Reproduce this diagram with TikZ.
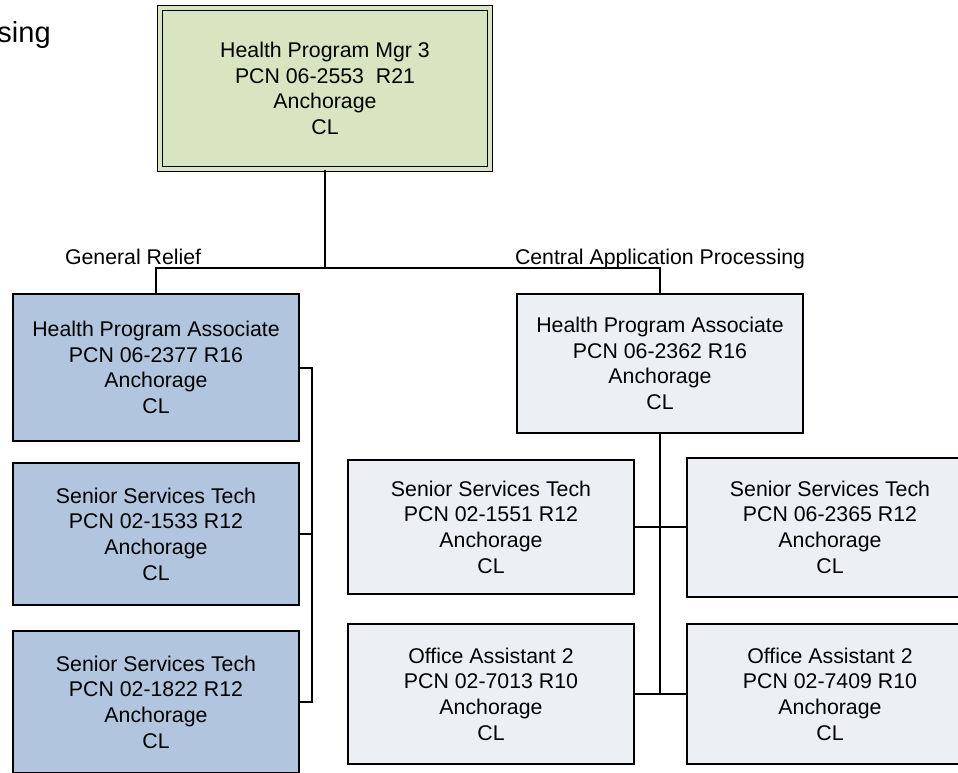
\documentclass[tikz,border=0pt]{standalone}
\usepackage{fontspec}
\setmainfont{Liberation Sans}
\definecolor{mgrgreen}{RGB}{217,228,192}
\definecolor{grblue}{RGB}{177,197,222}
\definecolor{capgrey}{RGB}{236,240,245}

\begin{document}
\begin{tikzpicture}[x=1pt, y=-1pt, line width=2pt,
  txt/.style={font=\fontsize{21.3}{25.7}\selectfont},
  post/.style={txt, draw, align=center, inner sep=2pt, minimum width=286pt, minimum height=142pt},
  mgr/.style={txt, draw, align=center, fill=mgrgreen, double=mgrgreen, double distance=4pt, line width=1.4pt, minimum width=330pt, minimum height=161pt},
  grbox/.style={post, fill=grblue},
  capbox/.style={post, fill=capgrey},
  big/.style={font=\fontsize{29}{35}\selectfont}]
\useasboundingbox (0,0) rectangle (958,772);
\clip (0,0) rectangle (958,772);
% cut-off heading
\node[big, anchor=base east] (h1) at (5,7) {n};
\node[big, anchor=base east] (h2) at (55,42) {sing};
% boxes
\node[mgr] (m) at (325,88.5) {Health Program Mgr 3\\PCN 06-2553~~R21\\Anchorage\\CL};
\node[grbox, minimum height=147pt] (g1) at (156,367.5) {Health Program Associate\\PCN 06-2377 R16\\Anchorage\\CL};
\node[grbox] (g2) at (156,534) {Senior Services Tech\\PCN 02-1533 R12\\Anchorage\\CL};
\node[grbox] (g3) at (156,702) {Senior Services Tech\\PCN 02-1822 R12\\Anchorage\\CL};
\node[capbox, minimum height=139pt] (c) at (660,363.5) {Health Program Associate\\PCN 06-2362 R16\\Anchorage\\CL};
\node[capbox, minimum height=134pt] (c1) at (491,527) {Senior Services Tech\\PCN 02-1551 R12\\Anchorage\\CL};
\node[capbox, minimum height=139pt] (c2) at (830,527) {Senior Services Tech\\PCN 06-2365 R12\\Anchorage\\CL};
\node[capbox, minimum height=140pt] (c3) at (491,694) {Office Assistant 2\\PCN 02-7013 R10\\Anchorage\\CL};
\node[capbox, minimum height=140pt] (c4) at (830,694) {Office Assistant 2\\PCN 02-7409 R10\\Anchorage\\CL};
% section labels
\node[txt, anchor=base west, inner sep=0pt] (lg) at (64,264) {General Relief};
\node[txt, anchor=base west, inner sep=0pt] (lc) at (514,264) {Central Application Processing};
% lines
\draw (m.south) -- ++(0,99);
\draw (g1.north) -- ++(0,-25) -| (c.north);
\draw (g1.east) -- ++(12,0) |- (g3.east);
\draw (g2.east) -- ++(12,0);
\draw (c.south) |- (c4.west);
\draw (c1.east) -- (c2.west);
\draw (c3.east) -- (c4.west);
\end{tikzpicture}
\end{document}
